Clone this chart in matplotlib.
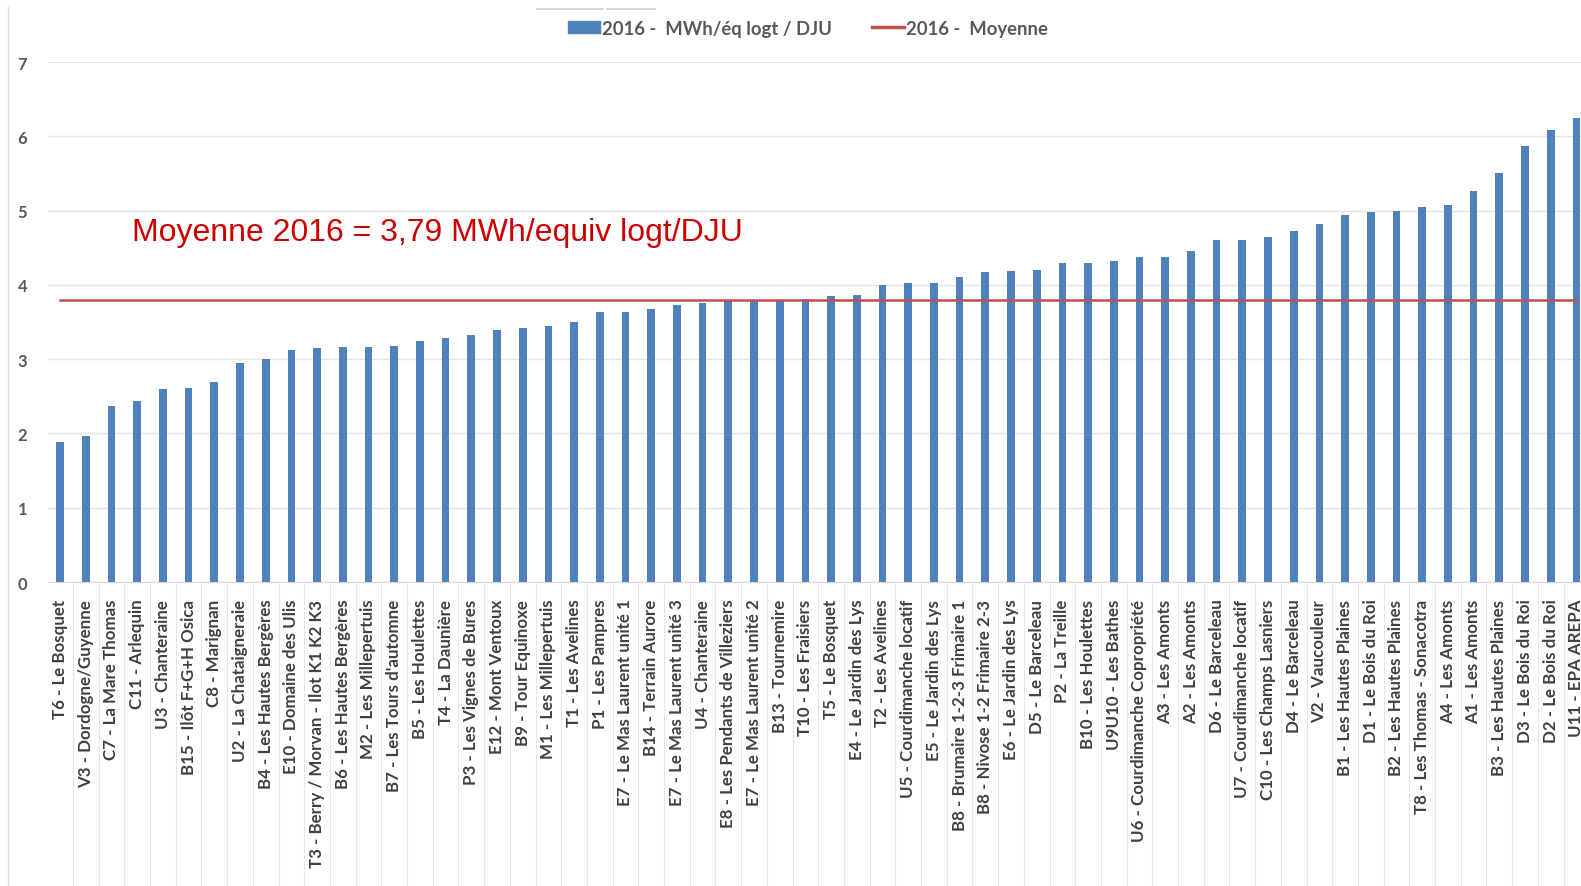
import matplotlib
matplotlib.use('Agg')
import matplotlib.pyplot as plt
from matplotlib.lines import Line2D
from matplotlib.patches import Patch

sites = ['T6 - Le Bosquet', 'V3 - Dordogne/Guyenne', 'C7 - La Mare Thomas', 'C11 - Arlequin',
         'U3 - Chanteraine', 'B15 - Ilôt F+G+H Osica', 'C8 - Marignan', 'U2 - La Chataigneraie',
         'B4 - Les Hautes Bergères', 'E10 - Domaine des Ulis', 'T3 - Berry / Morvan - Ilot K1 K2 K3',
         'B6 - Les Hautes Bergères', 'M2 - Les Millepertuis', "B7 - Les Tours d'automne",
         'B5 - Les Houlettes', 'T4 - La Daunière', 'P3 - Les Vignes de Bures', 'E12 - Mont Ventoux',
         'B9 - Tour Equinoxe', 'M1 - Les Millepertuis', 'T1 - Les Avelines', 'P1 - Les Pampres',
         'E7 - Le Mas Laurent unité 1', 'B14 - Terrain Aurore', 'E7 - Le Mas Laurent unité 3',
         'U4 - Chanteraine', 'E8 - Les Pendants de Villeziers', 'E7 - Le Mas Laurent unité 2',
         'B13 - Tournemire', 'T10 - Les Fraisiers', 'T5 - Le Bosquet', 'E4 - Le Jardin des Lys',
         'T2 - Les Avelines', 'U5 - Courdimanche locatif', 'E5 - Le Jardin des Lys',
         'B8 - Brumaire 1-2-3 Frimaire 1', 'B8 - Nivose 1-2 Frimaire 2-3', 'E6 - Le Jardin des Lys',
         'D5 - Le Barceleau', 'P2 - La Treille', 'B10 - Les Houlettes', 'U9U10 - Les Bathes',
         'U6 - Courdimanche Copropriété', 'A3 - Les Amonts', 'A2 - Les Amonts', 'D6 - Le Barceleau',
         'U7 - Courdimanche locatif', 'C10 - Les Champs Lasniers', 'D4 - Le Barceleau',
         'V2 - Vaucouleur', 'B1 - Les Hautes Plaines', 'D1 - Le Bois du Roi', 'B2 - Les Hautes Plaines',
         'T8 - Les Thomas - Sonacotra', 'A4 - Les Amonts', 'A1 - Les Amonts', 'B3 - Les Hautes Plaines',
         'D3 - Le Bois du Roi', 'D2 - Le Bois du Roi', 'U11 - EPA AREPA']

mwh_2016 = [1.88, 1.96, 2.37, 2.44, 2.60, 2.61, 2.69, 2.95, 3.00, 3.12,
            3.15, 3.16, 3.17, 3.18, 3.24, 3.29, 3.33, 3.39, 3.42, 3.44,
            3.50, 3.63, 3.64, 3.68, 3.73, 3.75, 3.78, 3.79, 3.79, 3.81,
            3.85, 3.86, 4.00, 4.02, 4.03, 4.11, 4.17, 4.18, 4.20, 4.29,
            4.30, 4.32, 4.37, 4.37, 4.46, 4.60, 4.61, 4.65, 4.72, 4.82,
            4.94, 4.98, 4.99, 5.05, 5.07, 5.26, 5.50, 5.87, 6.08, 6.24]

moyenne = 3.79
yticks = [0, 1, 2, 3, 4, 5, 6, 7]

bar_color = '#4F81BD'
line_color = '#C0504D'
txt_gray = '#404040'
font = 'Lato'

fig = plt.figure(figsize=(15.81, 8.87), dpi=100)
ax = fig.add_axes([48 / 1581, (887 - 583) / 887, 1 - 48 / 1581, (583 - 63) / 887])

x = list(range(len(sites)))
ax.bar(x, mwh_2016, width=0.3, color=bar_color, zorder=3)
ax.plot(x, [moyenne] * len(x), color=line_color, lw=1.8, zorder=4)

ax.set_yticks(yticks)
ax.set_yticklabels([str(v) for v in yticks], fontsize=12, fontweight='bold',
                   color='#595959', family=font)
ax.tick_params(axis='y', length=0, pad=15)
ax.grid(axis='y', color='#E4E4E4', lw=1, zorder=0)

ax.set_xticks(x)
ax.set_xticklabels(sites, rotation=90, fontsize=12.2, fontweight='bold',
                   color=txt_gray, family=font, va='top')
ax.tick_params(axis='x', which='major', length=0, pad=12)
ax.set_xticks([i - 0.5 for i in range(len(sites) + 1)], minor=True)
ax.tick_params(axis='x', which='minor', length=220, color='#E6E6E6', width=0.8, direction='out')

# limits last, set_xticks would widen them
ax.set_ylim(0, 7)
ax.set_xlim(-0.47, 59.18)

for s in ['top', 'right', 'left']:
    ax.spines[s].set_visible(False)
ax.spines['bottom'].set_color('#D9D9D9')

# left frame line of the chart area + small grey marks above the legend
fig.add_artist(Line2D([8 / 1581, 8 / 1581], [0, (887 - 8) / 887], color='#E0E0E0', lw=1))
fig.add_artist(Line2D([537 / 1581, 603 / 1581], [1 - 10 / 887] * 2, color='#CCCCCC', lw=1.2))
fig.add_artist(Line2D([607 / 1581, 655 / 1581], [1 - 10 / 887] * 2, color='#CCCCCC', lw=1.2))

fig.text(132 / 1581, 1 - 233 / 887, 'Moyenne 2016 = 3,79 MWh/equiv logt/DJU',
         color='#CC0000', fontsize=23, family='Liberation Sans', va='center', ha='left')

handles = [Patch(color=bar_color), Line2D([], [], color=line_color, lw=2.5)]
leg = fig.legend(handles, ['2016 -  MWh/éq logt / DJU', '2016 -  Moyenne'],
                 loc='center', bbox_to_anchor=(808 / 1581, 1 - 29 / 887), ncol=2, frameon=False,
                 prop={'family': font, 'weight': 'bold', 'size': 13.3},
                 handlelength=1.7, handleheight=0.6, handletextpad=0.1, columnspacing=2.2)
for t in leg.get_texts():
    t.set_color('#595959')

fig.savefig('out.png', dpi=100)
